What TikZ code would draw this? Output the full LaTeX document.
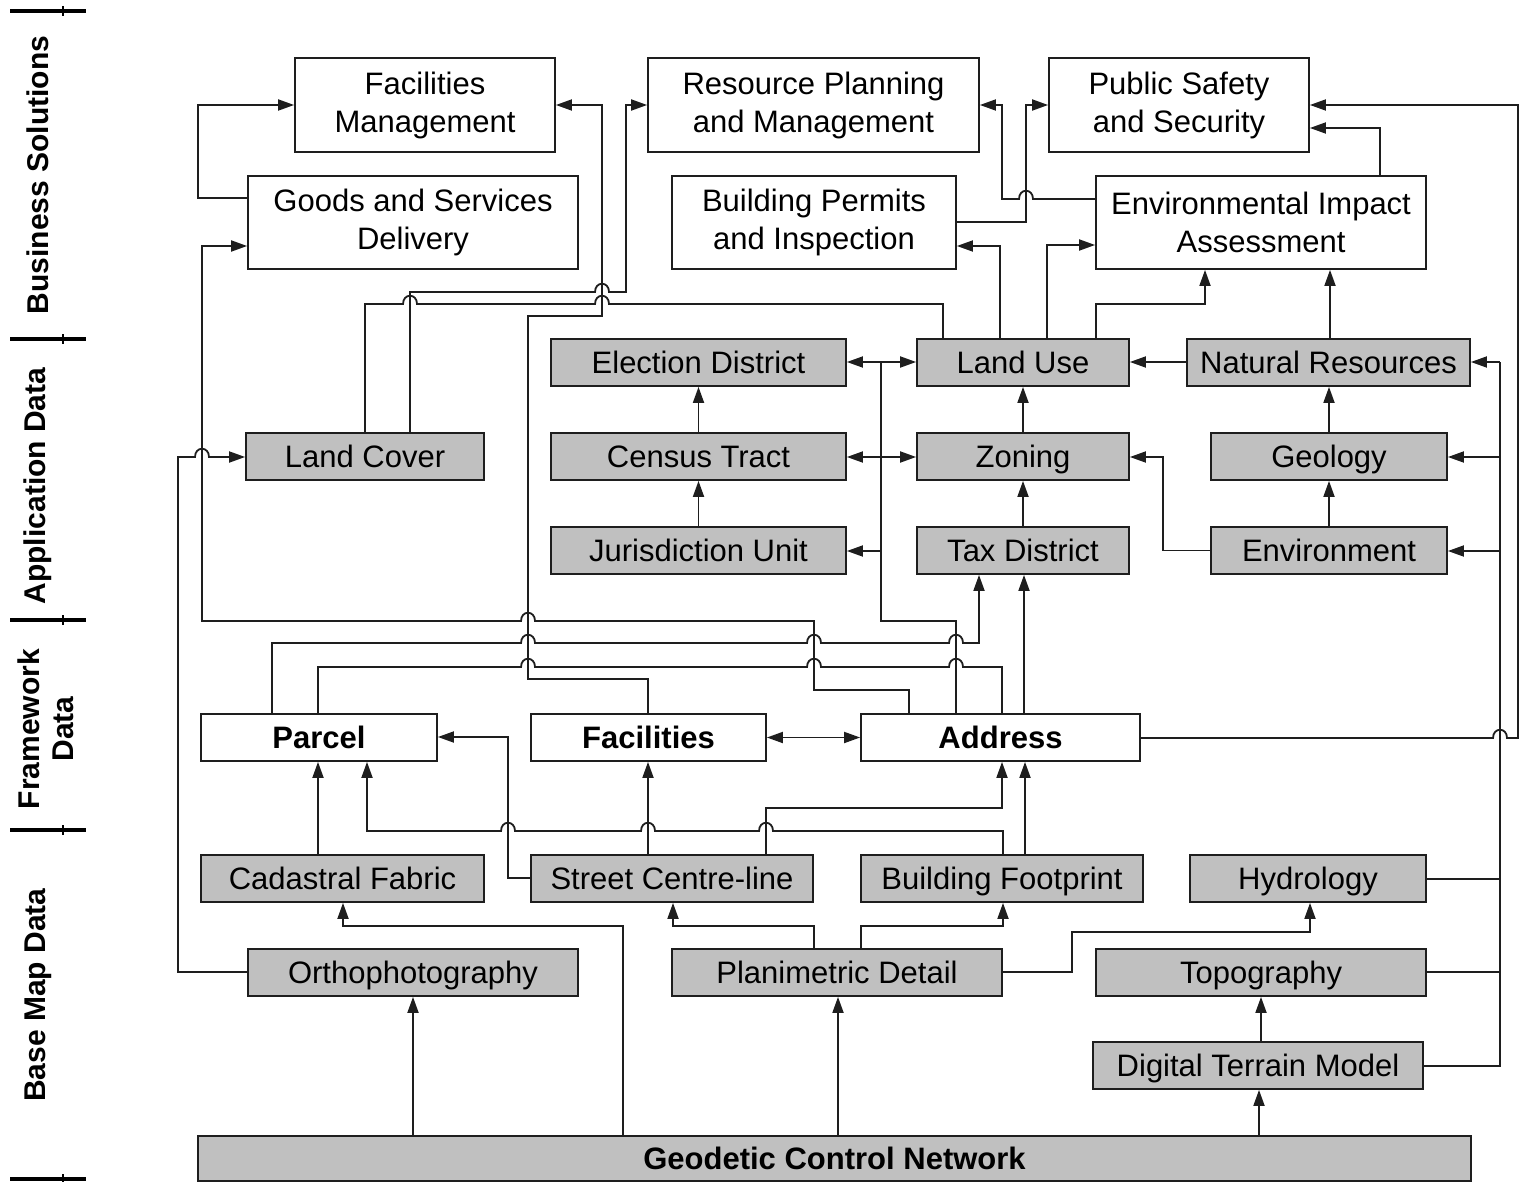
\documentclass[tikz,border=0pt]{standalone}
\usepackage{fontspec}
\setmainfont{Liberation Sans}
\usetikzlibrary{arrows.meta}
\definecolor{boxgray}{HTML}{C0C0C0}
\definecolor{ln}{HTML}{1E1E1E}
\newcommand\hr[2]{-- (#1-7,#2) .. controls (#1-7,#2-11) and (#1+7,#2-11) .. (#1+7,#2)}
\newcommand\hl[2]{-- (#1+7,#2) .. controls (#1+7,#2-11) and (#1-7,#2-11) .. (#1-7,#2)}
\begin{document}
\begin{tikzpicture}[x=1pt,y=-1pt,
  box/.style={draw=ln, line width=1.8pt, inner sep=0pt, align=center, font=\fontsize{31}{38}\selectfont, text=black},
  sz/.style 2 args={minimum width=#1pt, minimum height=#2pt},
  one/.style={text height=24pt, text depth=2pt},
  wbox/.style={box, fill=white},
  gbox/.style={box, one, fill=boxgray},
  fbox/.style={box, one, fill=white, font=\fontsize{31}{38}\selectfont\bfseries},
  gfbox/.style={box, one, fill=boxgray, font=\fontsize{31}{38}\selectfont\bfseries},
  conn/.style={draw=ln, line width=1.8pt},
  tip/.tip={Triangle[length=16pt,width=11pt]},
  arr/.style={conn, -tip},
  darr/.style={conn, tip-tip},
  sep/.style={line width=4pt, draw=black},
  tick/.style={line width=2.2pt, draw=black},
  lab/.style={rotate=90, align=center, inner sep=0pt, font=\fontsize{30}{34}\selectfont\bfseries}
]
\useasboundingbox (0,0) rectangle (1520,1182);
\fill[white] (0,0) rectangle (1520,1182);

% ---- left labels ----
\foreach \yy in {11,339,620,830,1179}{
  \draw[sep] (10,\yy) -- (86,\yy);
  \draw[tick] (63,\yy-5) -- (63,\yy+5);
}
\node[lab] (L1) at (38,175) {Business Solutions};
\node[lab] (L2) at (38,486) {Application Data};
\node[lab] (L3) at (46,729) {Framework\\Data};
\node[lab] (L4) at (38,995) {Base Map Data};

% ---- business solutions ----
\node[wbox, sz={260}{94}] (FM) at (425,105) {Facilities\\Management};
\node[wbox, sz={331}{94}] (RPM) at (813.5,105) {Resource Planning\\and Management};
\node[wbox, sz={260}{94}] (PSS) at (1179,105) {Public Safety\\and Security};
\node[wbox, sz={330}{93}] (GSD) at (413,222.5) {Goods and Services\\Delivery};
\node[wbox, sz={284}{93}] (BPI) at (814,222.5) {Building Permits\\and Inspection};
\node[wbox, sz={330}{93}] (EIA) at (1261,222.5) {Environmental Impact\\Assessment};

% ---- application data ----
\node[gbox, sz={295}{47}] (ED) at (698.5,362.5) {Election District};
\node[gbox, sz={212}{47}] (LU) at (1023,362.5) {Land Use};
\node[gbox, sz={283}{47}] (NR) at (1328.5,362.5) {Natural Resources};
\node[gbox, sz={238}{47}] (LC) at (365,456.5) {Land Cover};
\node[gbox, sz={295}{47}] (CT) at (698.5,456.5) {Census Tract};
\node[gbox, sz={212}{47}] (ZO) at (1023,456.5) {Zoning};
\node[gbox, sz={236}{47}] (GE) at (1329,456.5) {Geology};
\node[gbox, sz={295}{47}] (JU) at (698.5,550.5) {Jurisdiction Unit};
\node[gbox, sz={212}{47}] (TD) at (1023,550.5) {Tax District};
\node[gbox, sz={236}{47}] (EN) at (1329,550.5) {Environment};

% ---- framework data ----
\node[fbox, sz={236}{47}] (PA) at (319,737.5) {Parcel};
\node[fbox, sz={235}{47}] (FA) at (648.5,737.5) {Facilities};
\node[fbox, sz={279}{47}] (AD) at (1000.5,737.5) {Address};

% ---- base map data ----
\node[gbox, sz={283}{47}] (CF) at (342.5,878.5) {Cadastral Fabric};
\node[gbox, sz={282}{47}] (SC) at (672,878.5) {Street Centre-line};
\node[gbox, sz={282}{47}] (BF) at (1002,878.5) {Building Footprint};
\node[gbox, sz={236}{47}] (HY) at (1308,878.5) {Hydrology};
\node[gbox, sz={330}{47}] (OR) at (413,972.5) {Orthophotography};
\node[gbox, sz={330}{47}] (PD) at (837,972.5) {Planimetric Detail};
\node[gbox, sz={330}{47}] (TO) at (1261,972.5) {Topography};
\node[gbox, sz={330}{47}] (DT) at (1258,1065.5) {Digital Terrain Model};
\node[gfbox, sz={1273}{45}] (GC) at (834.5,1158.5) {Geodetic Control Network};

% ---- connectors: business solutions ----
\draw[arr] (GSD.west |- 0,198) -- (198,198) -- (198,105) -- (FM.west |- 0,105);
\draw[arr] (AD.north -| 909,0) -- (909,690) -- (814,690) -- (814,621) \hl{528}{621} -- (202,621) -- (202,246) -- (GSD.west |- 0,246);
\draw[arr] (FA.north -| 648,0) -- (648,679) -- (528,679) -- (528,316) -- (602,316) -- (602,105) -- (FM.east |- 0,105);
\draw[arr] (LC.north -| 410,0) -- (410,292) \hr{602}{292} -- (626,292) -- (626,105) -- (RPM.west |- 0,105);
\draw[conn] (LC.north -| 365,0) -- (365,304) \hr{410}{304} \hr{602}{304} -- (943,304) -- (LU.north -| 943,0);
\draw[arr] (LU.north -| 1000,0) -- (1000,246) -- (BPI.east |- 0,246);
\draw[arr] (EIA.west |- 0,199) \hl{1026}{199} -- (1002,199) -- (1002,105) -- (RPM.east |- 0,105);
\draw[arr] (BPI.east |- 0,222) -- (1026,222) -- (1026,105) -- (PSS.west |- 0,105);
\draw[arr] (AD.east |- 0,738) \hr{1500}{738} -- (1518,738) -- (1518,105) -- (PSS.east |- 0,105);
\draw[arr] (EIA.north -| 1380,0) -- (1380,128) -- (PSS.east |- 0,128);
\draw[arr] (LU.north -| 1047,0) -- (1047,245) -- (EIA.west |- 0,245);
\draw[arr] (LU.north -| 1096,0) -- (1096,304) -- (1205,304) -- (EIA.south -| 1205,0);
\draw[arr] (NR.north -| 1330,0) -- (EIA.south -| 1330,0);

% ---- connectors: application data ----
\draw[arr] (NR.west |- 0,362) -- (LU.east |- 0,362);
\draw[arr] (ZO.north) -- (LU.south);
\draw[arr] (TD.north) -- (ZO.south);
\draw[arr] (CT.north) -- (ED.south);
\draw[arr] (JU.north) -- (CT.south);
\draw[arr] (GE.north) -- (NR.south -| GE.north);
\draw[arr] (EN.north) -- (GE.south);
\draw[arr] (EN.west) -- (1163,550.5) -- (1163,457) -- (ZO.east |- 0,457);
\draw[arr] (AD.north -| 1024,0) -- (TD.south -| 1024,0);
\draw[arr] (PA.north -| 272,0) -- (272,643) \hr{528}{643} \hr{814}{643} \hr{956}{643} -- (979,643) -- (TD.south -| 979,0);
\draw[conn] (PA.north -| 318,0) -- (318,667) \hr{528}{667} \hr{814}{667} \hr{956}{667} -- (1002,667) -- (AD.north -| 1002,0);

% address distribution bus
\coordinate (b1) at (881,362);
\coordinate (b2) at (881,457);
\coordinate (b3) at (881,551);
\draw[conn] (AD.north -| 956,0) -- (956,621) -- (881,621) -- (b1);
\draw[arr] (b1) -- (ED.east |- b1);
\draw[arr] (b1) -- (LU.west |- b1);
\draw[arr] (b2) -- (CT.east |- b2);
\draw[arr] (b2) -- (ZO.west |- b2);
\draw[arr] (b3) -- (JU.east |- b3);

% right-hand bus
\coordinate (r1) at (1500,362);
\coordinate (r2) at (1500,457);
\coordinate (r3) at (1500,551);
\draw[conn] (DT.east |- 0,1066) -- (1500,1066) -- (r1);
\draw[arr] (r1) -- (NR.east |- r1);
\draw[arr] (r2) -- (GE.east |- r2);
\draw[arr] (r3) -- (EN.east |- r3);
\draw[conn] (HY.east |- 0,879) -- (1500,879);
\draw[conn] (TO.east |- 0,972) -- (1500,972);

% ---- connectors: framework / base map ----
\draw[darr] (FA.east) -- (AD.west);
\draw[arr] (SC.west |- 0,878) -- (508,878) -- (508,737) -- (PA.east |- 0,737);
\draw[arr] (CF.north -| 318,0) -- (PA.south -| 318,0);
\draw[arr] (BF.north -| 1003,0) -- (1003,831) \hl{766}{831} \hl{648}{831} \hl{508}{831} -- (367,831) -- (PA.south -| 367,0);
\draw[arr] (SC.north -| 648,0) -- (FA.south -| 648,0);
\draw[arr] (SC.north -| 766,0) -- (766,808) -- (1002,808) -- (AD.south -| 1002,0);
\draw[arr] (BF.north -| 1025,0) -- (AD.south -| 1025,0);
\draw[arr] (GC.north -| 623,0) -- (623,926) -- (343,926) -- (CF.south -| 343,0);
\draw[arr] (OR.west |- 0,972) -- (178,972) -- (178,457) \hr{202}{457} -- (LC.west |- 0,457);
\draw[arr] (GC.north -| 413,0) -- (OR.south -| 413,0);
\draw[arr] (PD.north -| 814,0) -- (814,926) -- (673,926) -- (SC.south -| 673,0);
\draw[arr] (GC.north -| 838,0) -- (PD.south -| 838,0);
\draw[arr] (PD.north -| 861,0) -- (861,926) -- (1003,926) -- (BF.south -| 1003,0);
\draw[arr] (PD.east |- 0,972) -- (1072,972) -- (1072,932) -- (1310,932) -- (HY.south -| 1310,0);
\draw[arr] (DT.north -| 1261,0) -- (TO.south -| 1261,0);
\draw[arr] (GC.north -| 1259,0) -- (DT.south -| 1259,0);
\end{tikzpicture}
\end{document}
